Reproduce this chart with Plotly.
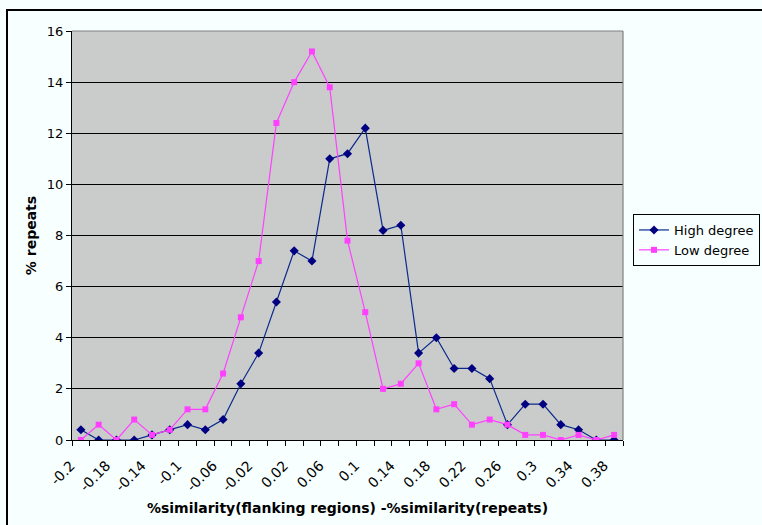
import plotly.graph_objects as go

# Category positions (index) and tick labels as shown on the axis
categories = list(range(31))
tick_positions = list(range(0, 31, 2))
tick_labels = ["-0.2", "-0.18", "-0.14", "-0.1", "-0.06", "-0.02", "0.02", "0.06",
               "0.1", "0.14", "0.18", "0.22", "0.26", "0.3", "0.34", "0.38"]

high_degree = [0.4, 0, 0, 0, 0.2, 0.4, 0.6, 0.4, 0.8, 2.2, 3.4, 5.4, 7.4, 7.0, 11.0, 11.2,
               12.2, 8.2, 8.4, 3.4, 4.0, 2.8, 2.8, 2.4, 0.6, 1.4, 1.4, 0.6, 0.4, 0, 0]
low_degree = [0, 0.6, 0, 0.8, 0.2, 0.4, 1.2, 1.2, 2.6, 4.8, 7.0, 12.4, 14.0, 15.2, 13.8, 7.8,
              5.0, 2.0, 2.2, 3.0, 1.2, 1.4, 0.6, 0.8, 0.6, 0.2, 0.2, 0, 0.2, 0, 0.2]

FONT = "DejaVu Sans"
W, H = 762, 525
L, R, T, B = 72, 139, 31, 85
pw = W - L - R
ph = H - T - B

fig = go.Figure()
fig.add_trace(go.Scatter(
    x=categories, y=high_degree, name="High degree", mode="lines+markers",
    line=dict(color="#0A2A8C", width=1.2),
    marker=dict(symbol="diamond", size=7, color="#000080"),
))
fig.add_trace(go.Scatter(
    x=categories, y=low_degree, name="Low degree", mode="lines+markers",
    line=dict(color="#FF40FF", width=1.2),
    marker=dict(symbol="square", size=6, color="#FF40FF"),
))

def px_x(p):
    return (p - L) / pw

def px_y(p):
    return (H - B - p) / ph

shapes = [
    # plot area border (top and right, gray)
    dict(type="line", xref="paper", yref="paper", x0=0, x1=1, y0=1, y1=1,
         line=dict(color="#808080", width=1.2), layer="above"),
    dict(type="line", xref="paper", yref="paper", x0=1, x1=1, y0=0, y1=1,
         line=dict(color="#808080", width=1.2), layer="above"),
    # chart area border (extends past the right and bottom image edges)
    dict(type="rect", xref="paper", yref="paper", x0=px_x(7), x1=px_x(800),
         y0=px_y(600), y1=px_y(10), line=dict(color="black", width=2),
         fillcolor="rgba(0,0,0,0)", layer="above"),
]

fig.update_layout(
    width=W, height=H,
    margin=dict(l=L, r=R, t=T, b=B, autoexpand=False),
    paper_bgcolor="#F8FFFF",
    plot_bgcolor="#CACCCC",
    font=dict(family=FONT, size=13, color="black"),
    showlegend=True,
    legend=dict(x=px_x(633), y=px_y(214), xanchor="left", yanchor="top",
                bgcolor="#F8FFFF", bordercolor="black", borderwidth=1,
                font=dict(family=FONT, size=13), tracegroupgap=0, itemwidth=30),
    shapes=shapes,
    xaxis=dict(
        range=[-0.5, 30.5], tickmode="array", tickvals=tick_positions, ticktext=tick_labels,
        tickangle=-45, ticks="", showgrid=False, zeroline=False, automargin=False,
        showline=True, linecolor="black", linewidth=1,
        tickfont=dict(family=FONT, size=14),
        ticklabelshift=-10, ticklabelstandoff=11,
        minor=dict(tick0=-0.5, dtick=1, ticks="outside", ticklen=5, tickcolor="black", showgrid=False),
        title=dict(text="<b>%similarity(flanking regions) -%similarity(repeats)</b>",
                   font=dict(family=FONT, size=14), standoff=9),
    ),
    yaxis=dict(
        range=[0, 16], tickmode="array", tickvals=[0, 2, 4, 6, 8, 10, 12, 14, 16],
        ticks="outside", ticklen=5, tickcolor="black", automargin=False,
        showgrid=True, gridcolor="black", gridwidth=1, zeroline=False,
        showline=True, linecolor="black", linewidth=1,
        tickfont=dict(family=FONT, size=13),
        title=dict(text="<b>% repeats</b>", font=dict(family=FONT, size=14), standoff=6),
    ),
)

fig.write_html(
    "out.html",
    config={"displayModeBar": False},
    post_script="document.body.style.margin='0';document.body.style.background='#F8FFFF';",
)
